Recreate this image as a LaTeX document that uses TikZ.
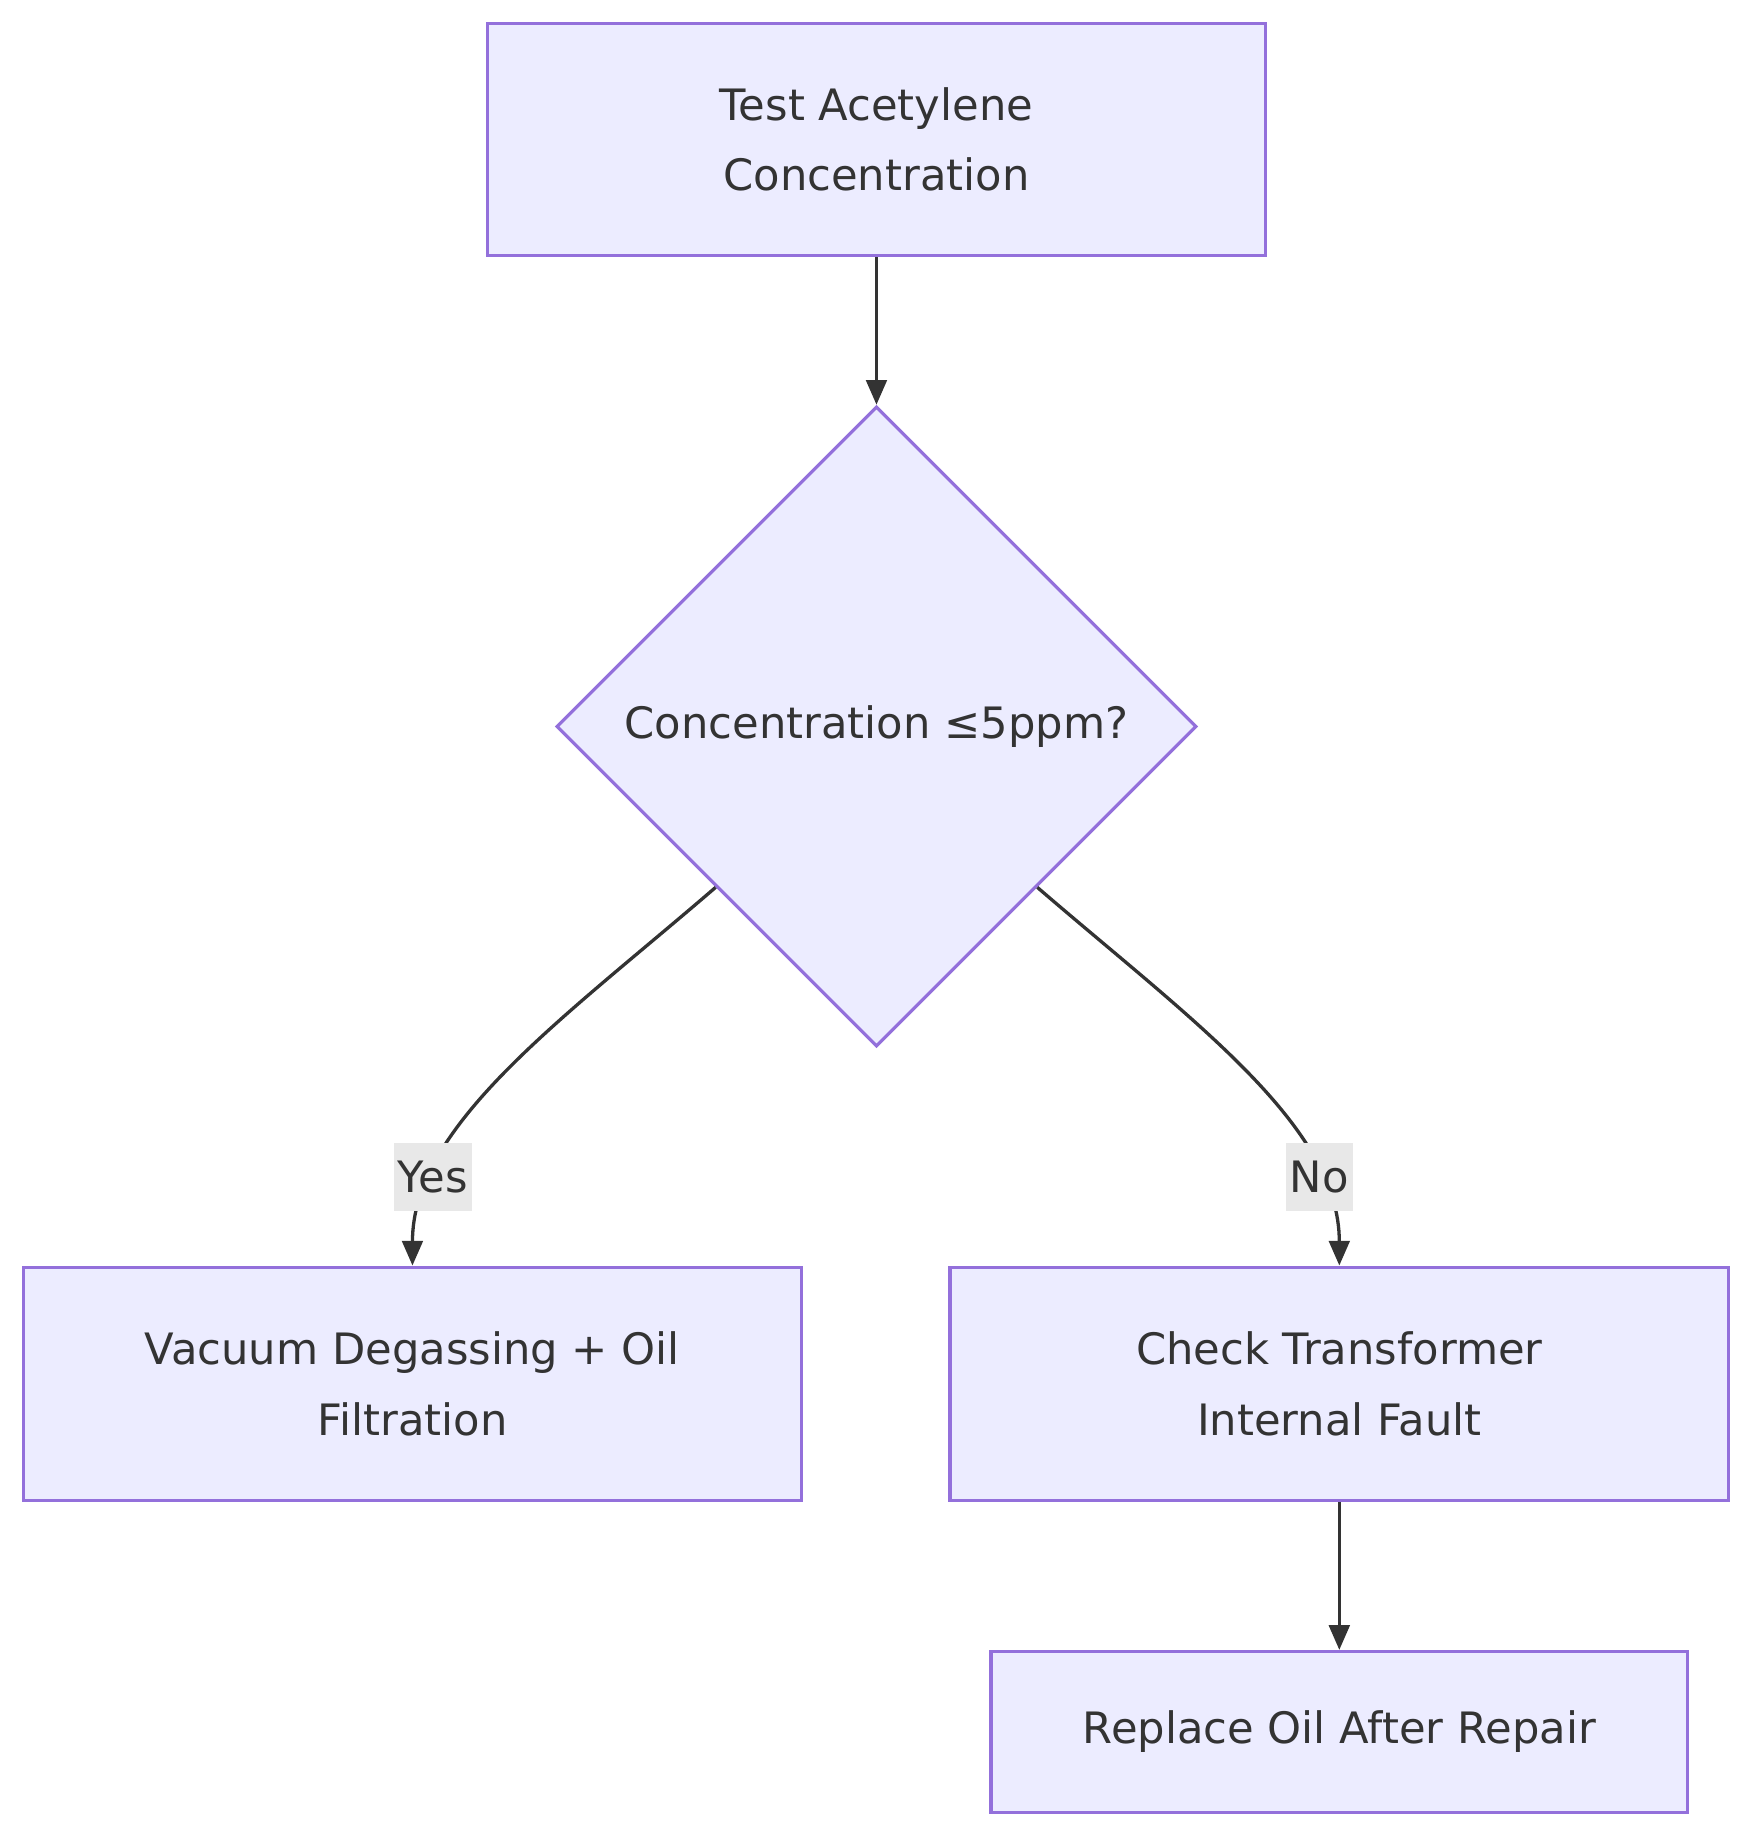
\documentclass[tikz,border=0pt]{standalone}
\usepackage{fontspec}
\setmainfont{DejaVu Sans}
\usetikzlibrary{shapes.geometric,arrows.meta}
\definecolor{boxfill}{HTML}{ECECFF}
\definecolor{boxline}{HTML}{9370DB}
\definecolor{arrowcol}{HTML}{333333}
\definecolor{labelbg}{HTML}{E8E8E8}
\begin{document}
\begin{tikzpicture}[x=0.01cm,y=-0.01cm,
	stage/.style={draw=boxline,fill=boxfill,line width=0.8pt,text=arrowcol,align=center,font=\fontsize{10.5}{17}\selectfont,inner sep=0pt},
	decide/.style={stage,shape=diamond,minimum width=5.46cm,minimum height=5.46cm},
	flow/.style={draw=arrowcol,line width=0.8pt,-{Triangle[length=6pt,width=5pt]}},
	tag/.style={fill=labelbg,text=arrowcol,font=\fontsize{10.5}{12}\selectfont,inner sep=1pt,minimum height=0.58cm}]

	\useasboundingbox (0,0) rectangle (1500,1572);

	% boxes
	\node[stage,minimum width=6.64cm,minimum height=1.98cm] (test) at (748,119) {Test Acetylene\\Concentration};
	\node[decide] (check) at (748,620) {Concentration ≤5ppm?};
	\node[stage,minimum width=6.64cm,minimum height=1.99cm] (degas) at (352,1181) {Vacuum Degassing + Oil\\Filtration};
	\node[stage,minimum width=6.64cm,minimum height=1.99cm] (fault) at (1143,1181) {Check Transformer\\Internal Fault};
	\node[stage,minimum width=5.94cm,minimum height=1.37cm] (oil) at (1143,1478) {Replace Oil After Repair};

	% connectors
	\draw[flow] (test) -- (check);
	\draw[flow] (check.-135) .. controls (480,870) and (352,960) .. node[tag,pos=0.78] {Yes} (degas.north);
	\draw[flow] (check.-45) .. controls (1016,870) and (1143,960) .. node[tag,pos=0.78] {No} (fault.north);
	\draw[flow] (fault) -- (oil);

\end{tikzpicture}
\end{document}
